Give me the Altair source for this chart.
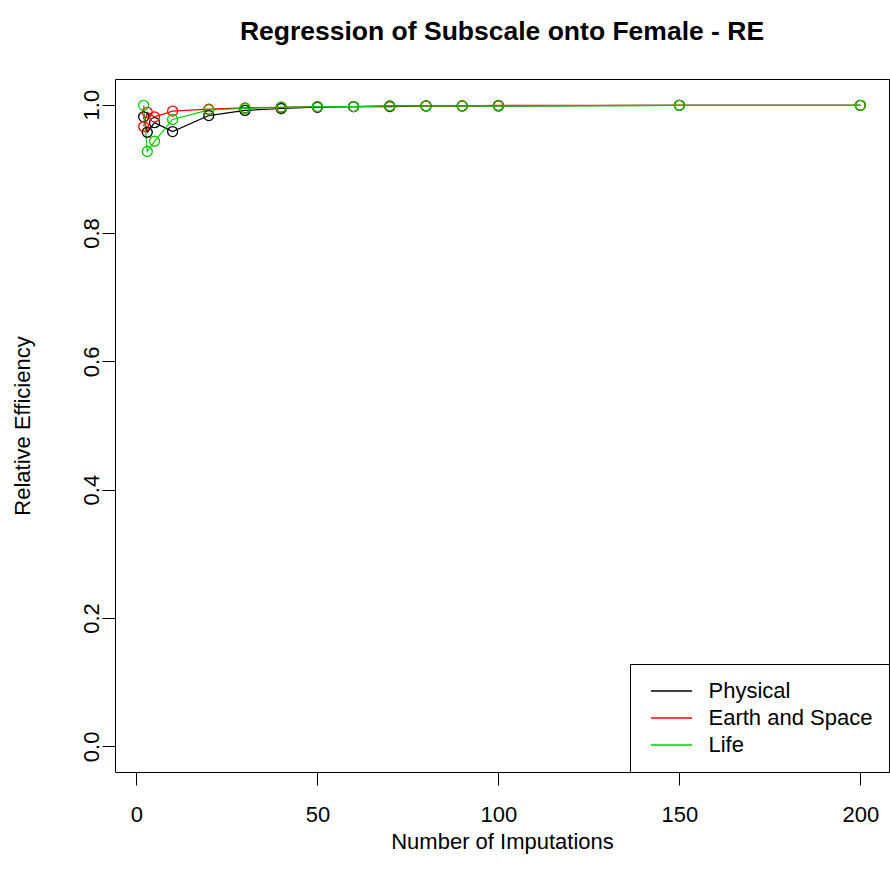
import altair as alt
import pandas as pd

# Relative efficiency of the multiple-imputation estimates by number of imputations
imputations = [2, 3, 5, 10, 20, 30, 40, 50, 60, 70, 80, 90, 100, 150, 200]
physical = [0.981, 0.957, 0.972, 0.958, 0.983, 0.991, 0.994, 0.996, 0.997, 0.997, 0.998, 0.998, 0.998, 0.999, 0.999]
earth_space = [0.966, 0.988, 0.981, 0.990, 0.993, 0.995, 0.996, 0.997, 0.997, 0.998, 0.998, 0.998, 0.999, 0.999, 0.999]
life = [0.999, 0.927, 0.943, 0.977, 0.992, 0.994, 0.996, 0.997, 0.997, 0.998, 0.998, 0.998, 0.998, 0.999, 0.999]

series_names = ["Physical", "Earth and Space", "Life"]
series_colors = ["#000000", "#FF0000", "#00CD00"]
x_ticks = [0, 50, 100, 150, 200]
y_ticks = [0.0, 0.2, 0.4, 0.6, 0.8, 1.0]

rows = []
for name, vals in zip(series_names, [physical, earth_space, life]):
    for i, (m, v) in enumerate(zip(imputations, vals)):
        rows.append({"m": m, "re": v, "series": name, "idx": i})
df = pd.DataFrame(rows)

FONT = "Liberation Sans"

x_enc = alt.X(
    "m:Q",
    scale=alt.Scale(domain=[-5.92, 207.92], nice=False, zero=False),
    axis=alt.Axis(
        values=x_ticks, title="Number of Imputations", format="d",
        titleBaseline="alphabetic", titleY=76, titleFontWeight="normal",
        labelPadding=19,
    ),
)
y_enc = alt.Y(
    "re:Q",
    scale=alt.Scale(domain=[-0.04, 1.04], nice=False, zero=False),
    axis=alt.Axis(
        values=y_ticks, title="Relative Efficiency", format=".1f",
        labelAngle=270, labelAlign="center", labelBaseline="alphabetic",
        labelPadding=4, titleBaseline="alphabetic", titleX=-86,
        titleFontWeight="normal",
    ),
)
# long horizontal stroke used as the legend key
key_path = "M-2,0L2,0"
color_enc = alt.Color(
    "series:N",
    scale=alt.Scale(domain=series_names, range=series_colors),
    legend=alt.Legend(
        title=None, orient="bottom-right", offset=0,
        symbolType=key_path, symbolSize=420, symbolStrokeWidth=1.3,
        symbolFillColor="transparent",
        labelFontSize=22, labelFont=FONT, labelColor="black", labelLimit=400,
        rowPadding=5, padding=16, symbolOffset=14.5, labelOffset=26,
        fillColor="white", strokeColor="black",
    ),
)

base = alt.Chart(df)
lines = base.mark_line(strokeWidth=1.2).encode(
    x=x_enc, y=y_enc, color=color_enc, order="idx:Q"
)
points = base.mark_point(filled=False, size=100, strokeWidth=1.3, opacity=1).encode(
    x=x_enc, y=y_enc, color=color_enc
)

chart = (
    alt.layer(lines, points)
    .properties(
        width=774,
        height=693,
        background="white",
        autosize=alt.AutoSizeParams(type="none"),
        padding={"left": 115, "top": 79, "right": 1, "bottom": 111},
        title=alt.TitleParams(
            "Regression of Subscale onto Female - RE",
            font=FONT, fontSize=26.5, fontWeight="bold", color="black",
            anchor="middle", frame="group", baseline="alphabetic", offset=13,
        ),
    )
    .configure_view(stroke="black", strokeWidth=1)
    .configure_axis(
        domain=False, grid=False, ticks=True, tickSize=13, tickColor="black",
        tickWidth=1, labelFont=FONT, labelFontSize=22, labelColor="black",
        titleFont=FONT, titleFontSize=22, titleColor="black",
    )
)

chart.save("out.html", embed_options={"renderer": "svg", "actions": False})
